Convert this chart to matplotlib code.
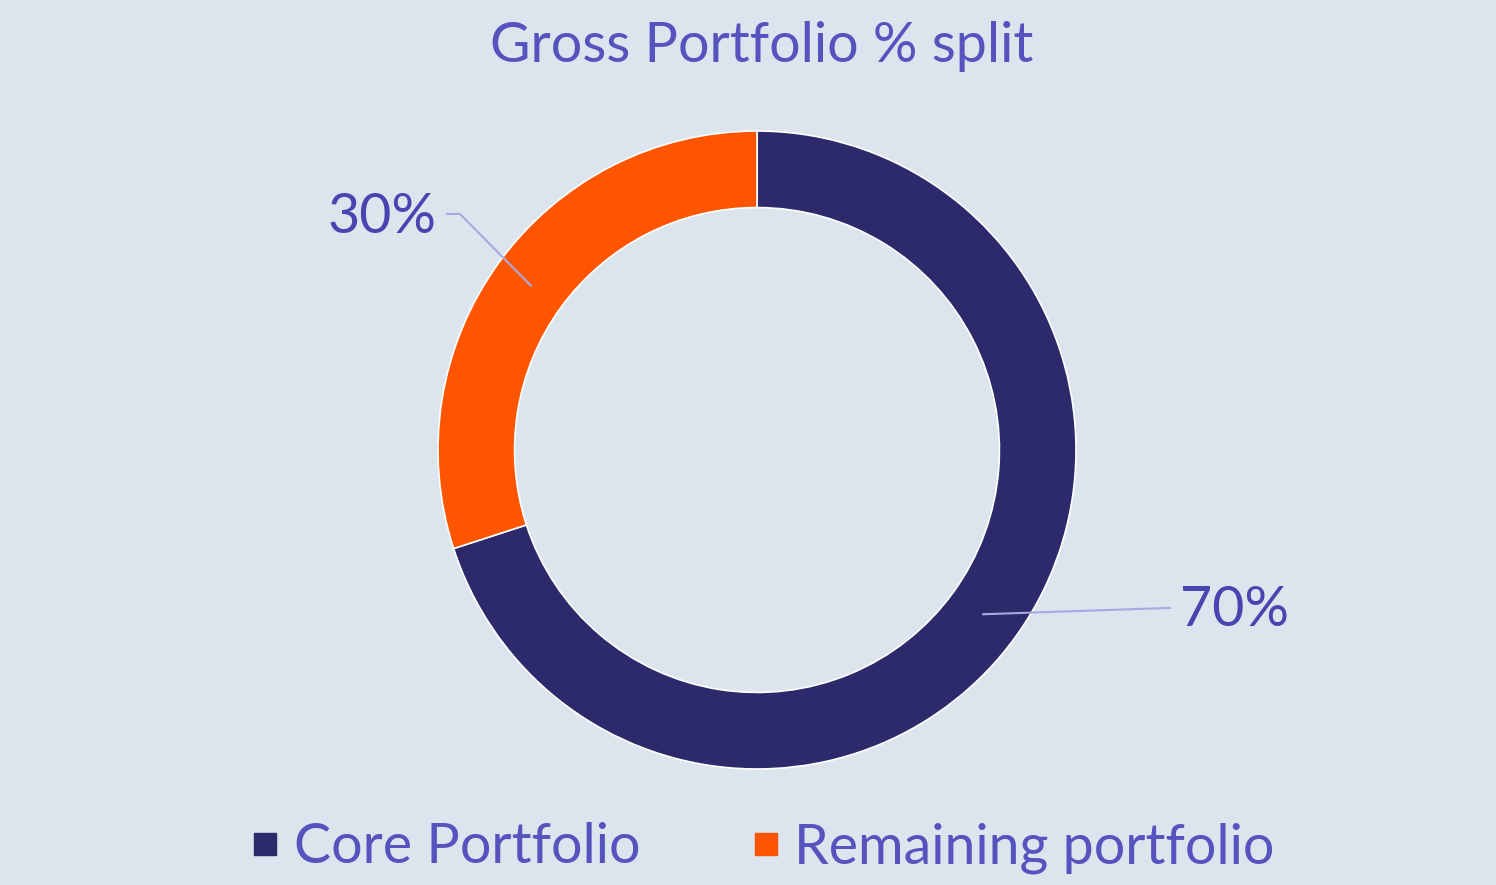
import numpy as np
import matplotlib
matplotlib.use("Agg")
import matplotlib.pyplot as plt
from matplotlib.lines import Line2D

plt.rcParams['font.family'] = ['Lato', 'DejaVu Sans']

# Data
categories = ["Core Portfolio", "Remaining portfolio"]
values = [70, 30]
colors = ["#2C2A6B", "#FF5500"]
title = "Gross Portfolio % split"

BG = "#DCE4ED"
TEXT = "#5653BE"
LABEL = "#4845B0"
LEADER = "#A9A8E0"

W, H = 1496, 885
fig = plt.figure(figsize=(W / 100, H / 100), dpi=100, facecolor=BG)

cx, cy_top, R = 757, 450, 319
cy = H - cy_top
S = 435
L = S / R
ax = fig.add_axes([(cx - S) / W, (cy - S) / H, 2 * S / W, 2 * S / H])
ax.set_facecolor(BG)

wedges, _ = ax.pie(values, colors=colors, startangle=90, counterclock=False,
                   radius=1.0, wedgeprops=dict(width=0.24, edgecolor='white', linewidth=1.2))
ax.set_xlim(-L, L)
ax.set_ylim(-L, L)
ax.set_aspect('equal')
ax.axis('off')

# Labels with leader lines
label_cfg = [
    dict(elbow=(1.295, -0.495), end=None, text=(1.325, -0.502), ha='left'),
    dict(elbow=(-0.931, 0.740), end=(-0.972, 0.740), text=(-1.005, 0.730), ha='right'),
]
for w, v, cfg in zip(wedges, values, label_cfg):
    ang = np.deg2rad((w.theta1 + w.theta2) / 2)
    r0 = 0.876
    x0, y0 = r0 * np.cos(ang), r0 * np.sin(ang)
    xs = [x0, cfg['elbow'][0]]
    ys = [y0, cfg['elbow'][1]]
    if cfg['end'] is not None:
        xs.append(cfg['end'][0]); ys.append(cfg['end'][1])
    ax.add_line(Line2D(xs, ys, color=LEADER, lw=1.5, clip_on=False))
    ax.text(cfg['text'][0], cfg['text'][1], f"{v}%", ha=cfg['ha'], va='center',
            fontsize=40, color=LABEL, clip_on=False)

fig.text(762 / W, 1 - 46 / H, title, ha='center', va='center', fontsize=40, color=TEXT)

handles = [Line2D([], [], marker='s', linestyle='none', markersize=15.5,
                  markerfacecolor=c, markeredgecolor=c) for c in colors]
leg = fig.legend(handles, categories, loc='center', ncol=2,
                 bbox_to_anchor=(764 / W, 1 - 848 / H), frameon=False,
                 fontsize=40, labelcolor=TEXT, handlelength=0.42,
                 handletextpad=0.3, columnspacing=2.05)

fig.savefig("out.png", dpi=100, facecolor=BG)
